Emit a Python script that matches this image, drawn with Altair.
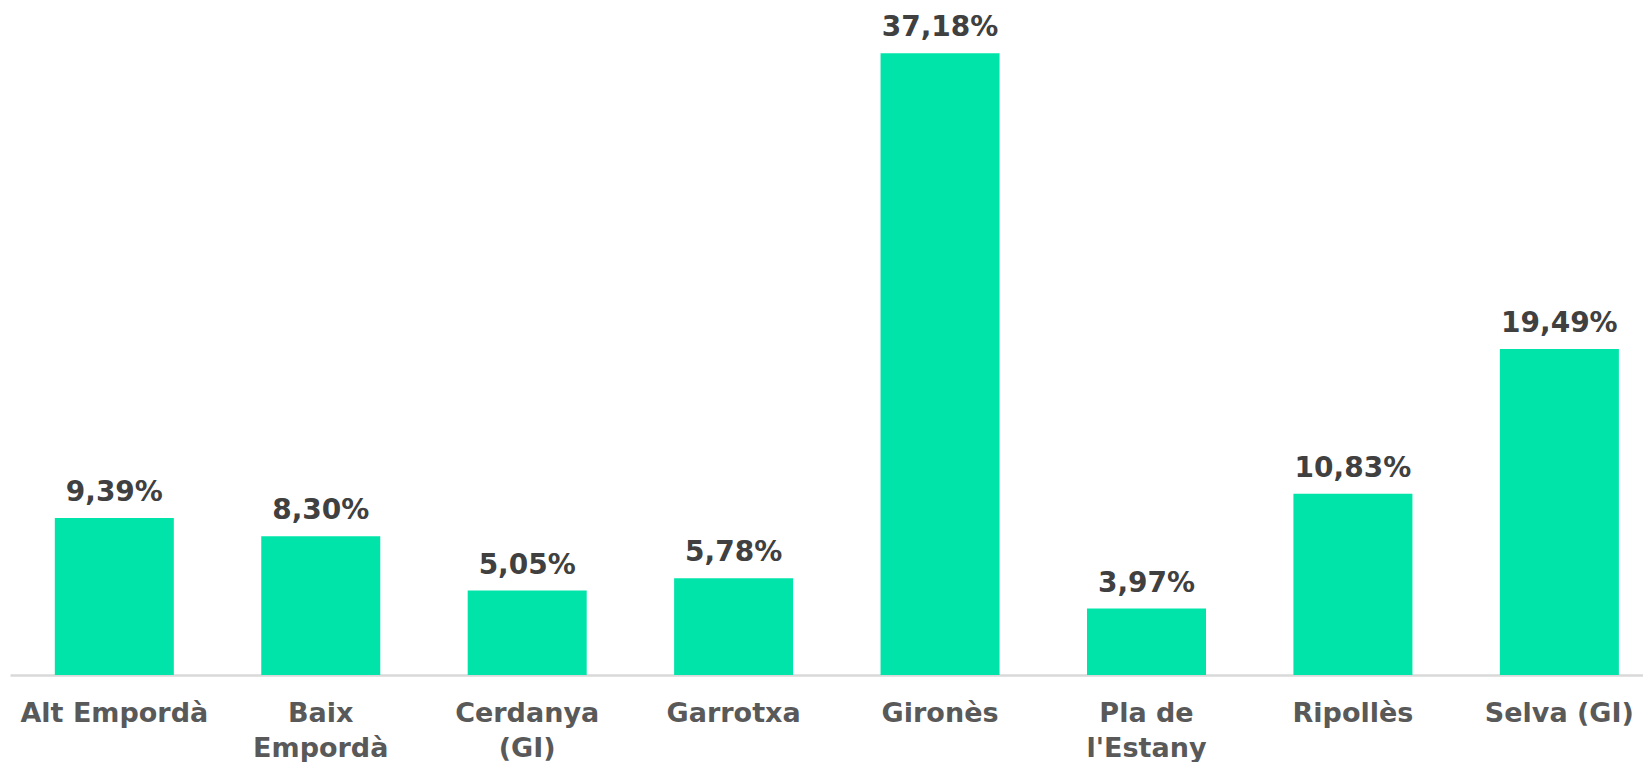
import altair as alt
import pandas as pd

categories = ["Alt Empordà", "Baix Empordà", "Cerdanya (GI)", "Garrotxa", "Gironès",
              "Pla de l'Estany", "Ripollès", "Selva (GI)"]
values = [9.39, 8.30, 5.05, 5.78, 37.18, 3.97, 10.83, 19.49]
wrapped = {"Baix Empordà": ["Baix", "Empordà"],
           "Cerdanya (GI)": ["Cerdanya", "(GI)"],
           "Pla de l'Estany": ["Pla de", "l'Estany"]}

df = pd.DataFrame({"cat": categories, "value": values})

parts = []
for k, v in wrapped.items():
    esc = k.replace("'", "\\'")
    arr = "[" + ",".join("'" + s.replace("'", "\\'") + "'" for s in v) + "]"
    parts.append(f"datum.label == '{esc}' ? {arr} : ")
label_expr = "".join(parts) + "datum.label"

FONT = "DejaVu Sans"

x = alt.X("cat:N", sort=categories, title=None,
          scale=alt.Scale(paddingInner=0.4235, paddingOuter=0.167, align=0.65),
          axis=alt.Axis(labelAngle=0, ticks=False, labelPadding=25, labelExpr=label_expr,
                        labelFont=FONT, labelFontSize=27, labelFontWeight="bold",
                        labelColor="#595959", labelLineHeight=35, labelLimit=400,
                        domainColor="#d9d9d9", domainWidth=2.5, grid=False))
y = alt.Y("value:Q", scale=alt.Scale(domain=[0, 40], nice=False, zero=True), axis=None)

base = alt.Chart(df).encode(x=x, y=y)
bars = base.mark_bar(color="#00E4A9")
text = base.transform_calculate(
    lbl="replace(format(datum.value, '.2f'), '.', ',') + '%'"
).mark_text(baseline="alphabetic", dy=-17, font=FONT, fontSize=28, fontWeight="bold",
            color="#404040").encode(text="lbl:N")

chart = (bars + text).properties(
    width=1633, height=669,
    padding={"left": 10, "top": 6, "right": 0, "bottom": 87},
    autosize=alt.AutoSizeParams(type="none"),
    background="white",
).configure_view(stroke=None, strokeWidth=0)

chart.save("out.html", embed_options={"renderer": "svg", "actions": False})
